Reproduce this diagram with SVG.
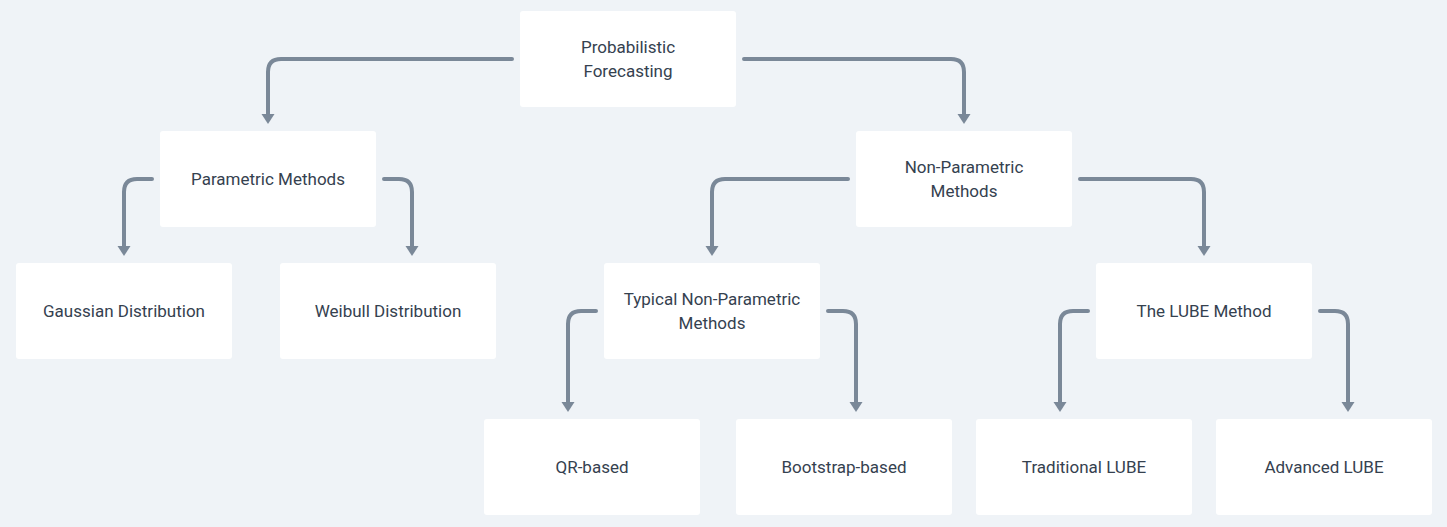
<svg xmlns="http://www.w3.org/2000/svg" width="1447" height="527" viewBox="0 0 1447 527">
<style>
.bg{fill:#eff3f7}
.box{fill:#ffffff}
.t{font-family:Roboto,"Liberation Sans",sans-serif;font-size:17px;font-weight:400;fill:#35414f;text-anchor:middle;dominant-baseline:central}
.c{fill:none;stroke:#7a8898;stroke-width:4;stroke-linecap:round;stroke-linejoin:round}
</style>
<defs>
<marker id="ah" viewBox="0 -7 11 14" markerWidth="11" markerHeight="14" refX="2" refY="0" orient="auto" markerUnits="userSpaceOnUse">
<path d="M0,-6.5 L10,0 L0,6.5 z" fill="#7a8898"/>
</marker>
</defs>
<rect class="bg" x="0" y="0" width="1447" height="527"/>
<g id="connectors">
<path class="c" marker-end="url(#ah)" d="M512,59 H281 Q268,59 268,72 V116"/>
<path class="c" marker-end="url(#ah)" d="M744,59 H951 Q964,59 964,72 V116"/>
<path class="c" marker-end="url(#ah)" d="M152,179 H137 Q124,179 124,192 V248"/>
<path class="c" marker-end="url(#ah)" d="M384,179 H399 Q412,179 412,192 V248"/>
<path class="c" marker-end="url(#ah)" d="M848,179 H725 Q712,179 712,192 V248"/>
<path class="c" marker-end="url(#ah)" d="M1080,179 H1191 Q1204,179 1204,192 V248"/>
<path class="c" marker-end="url(#ah)" d="M596,311 H581 Q568,311 568,324 V404"/>
<path class="c" marker-end="url(#ah)" d="M828,311 H843 Q856,311 856,324 V404"/>
<path class="c" marker-end="url(#ah)" d="M1088,311 H1073 Q1060,311 1060,324 V404"/>
<path class="c" marker-end="url(#ah)" d="M1320,311 H1335 Q1348,311 1348,324 V404"/>
</g>
<g id="n-root"><rect class="box" x="520" y="11" width="216" height="96" rx="3"/><text class="t" x="628" y="47">Probabilistic</text><text class="t" x="628" y="71">Forecasting</text></g>
<g id="n-param"><rect class="box" x="160" y="131" width="216" height="96" rx="3"/><text class="t" x="268" y="179">Parametric Methods</text></g>
<g id="n-nonparam"><rect class="box" x="856" y="131" width="216" height="96" rx="3"/><text class="t" x="964" y="167">Non-Parametric</text><text class="t" x="964" y="191">Methods</text></g>
<g id="n-gauss"><rect class="box" x="16" y="263" width="216" height="96" rx="3"/><text class="t" x="124" y="311">Gaussian Distribution</text></g>
<g id="n-weibull"><rect class="box" x="280" y="263" width="216" height="96" rx="3"/><text class="t" x="388" y="311">Weibull Distribution</text></g>
<g id="n-typical"><rect class="box" x="604" y="263" width="216" height="96" rx="3"/><text class="t" x="712" y="299">Typical Non-Parametric</text><text class="t" x="712" y="323">Methods</text></g>
<g id="n-lube"><rect class="box" x="1096" y="263" width="216" height="96" rx="3"/><text class="t" x="1204" y="311">The LUBE Method</text></g>
<g id="n-qr"><rect class="box" x="484" y="419" width="216" height="96" rx="3"/><text class="t" x="592" y="467">QR-based</text></g>
<g id="n-boot"><rect class="box" x="736" y="419" width="216" height="96" rx="3"/><text class="t" x="844" y="467">Bootstrap-based</text></g>
<g id="n-trad"><rect class="box" x="976" y="419" width="216" height="96" rx="3"/><text class="t" x="1084" y="467">Traditional LUBE</text></g>
<g id="n-adv"><rect class="box" x="1216" y="419" width="216" height="96" rx="3"/><text class="t" x="1324" y="467">Advanced LUBE</text></g>
</svg>
